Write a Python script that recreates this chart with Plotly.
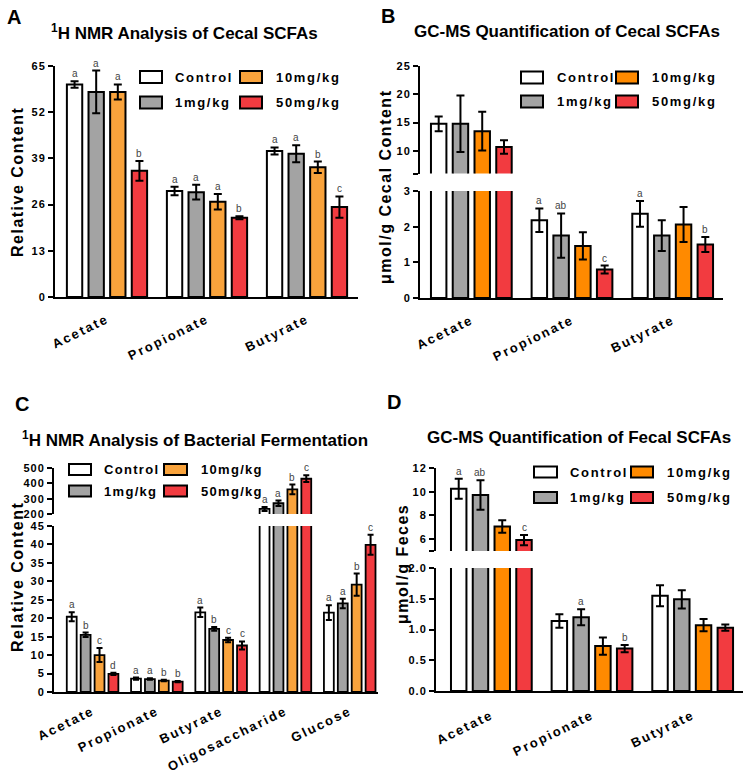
import plotly.graph_objects as go

W, H = 751, 775
FONT = "Liberation Sans, Arial, sans-serif"

# ---------------- data ----------------
series_names = ["Control", "1mg/kg", "10mg/kg", "50mg/kg"]

# Panel A: 1H NMR, cecal SCFAs (relative content)
cats_A = ["Acetate", "Propionate", "Butyrate"]
A_control = [59.8, 29.8, 41.1]
A_1mg = [57.7, 29.5, 40.3]
A_10mg = [57.7, 26.8, 36.5]
A_50mg = [35.5, 22.3, 25.3]
A_control_err = [0.9, 1.2, 1.0]
A_1mg_err = [6.0, 2.1, 2.4]
A_10mg_err = [2.1, 2.2, 1.6]
A_50mg_err = [2.8, 0.4, 3.0]
A_letters_control = ["a", "a", "a"]
A_letters_1mg = ["a", "a", "a"]
A_letters_10mg = ["a", "a", "b"]
A_letters_50mg = ["b", "b", "c"]

# Panel B: GC-MS, cecal SCFAs (umol/g)
cats_B = ["Acetate", "Propionate", "Butyrate"]
B_control = [14.8, 2.18, 2.36]
B_1mg = [14.8, 1.75, 1.75]
B_10mg = [13.5, 1.46, 2.06]
B_50mg = [10.7, 0.80, 1.50]
B_control_err = [1.3, 0.33, 0.36]
B_1mg_err = [5.0, 0.62, 0.43]
B_10mg_err = [3.4, 0.38, 0.49]
B_50mg_err = [1.2, 0.11, 0.21]
B_letters_control = ["", "a", "a"]
B_letters_1mg = ["", "ab", ""]
B_letters_10mg = ["", "", ""]
B_letters_50mg = ["", "c", "b"]

# Panel C: 1H NMR, bacterial fermentation (relative content)
cats_C = ["Acetate", "Propionate", "Butyrate", "Oligosaccharide", "Glucose"]
C_control = [20.4, 3.6, 21.6, 233, 21.5]
C_1mg = [15.5, 3.5, 17.1, 270, 24.0]
C_10mg = [10.0, 3.1, 14.1, 360, 29.1]
C_50mg = [4.9, 2.8, 12.6, 430, 39.9]
C_control_err = [1.2, 0.3, 1.3, 13, 2.0]
C_1mg_err = [0.6, 0.2, 0.5, 18, 1.3]
C_10mg_err = [1.9, 0.2, 0.6, 32, 3.0]
C_50mg_err = [0.3, 0.15, 1.1, 22, 2.7]
C_letters_control = ["a", "a", "a", "a", "a"]
C_letters_1mg = ["b", "a", "b", "a", "a"]
C_letters_10mg = ["c", "b", "c", "b", "b"]
C_letters_50mg = ["d", "b", "c", "c", "c"]

# Panel D: GC-MS, fecal SCFAs (umol/g feces)
cats_D = ["Acetate", "Propionate", "Butyrate"]
D_control = [10.25, 1.14, 1.55]
D_1mg = [9.72, 1.20, 1.49]
D_10mg = [7.07, 0.73, 1.07]
D_50mg = [5.92, 0.69, 1.03]
D_control_err = [0.85, 0.11, 0.17]
D_1mg_err = [1.25, 0.13, 0.15]
D_10mg_err = [0.53, 0.14, 0.10]
D_50mg_err = [0.43, 0.06, 0.05]
D_letters_control = ["a", "", ""]
D_letters_1mg = ["ab", "a", ""]
D_letters_10mg = ["", "", ""]
D_letters_50mg = ["c", "b", ""]

# tick labels
A_yticks = [0, 13, 26, 39, 52, 65]
B_low_ticks = [0, 1, 2, 3]
B_up_ticks = [10, 15, 20, 25]
B_break = [6]
C_low_ticks = [0, 5, 10, 15, 20, 25, 30, 35, 40, 45]
C_up_ticks = [200, 300, 400, 500]
D_low_ticks = [0.0, 0.5, 1.0, 1.5, 2.0]
D_up_ticks = [6, 8, 10, 12]
D_break = [5]

colors_light = ["#FFFFFF", "#A3A3A3", "#F9A33C", "#F23B40"]
colors_dark = ["#FFFFFF", "#A3A3A3", "#FF8A00", "#F23B40"]

# ---------------- helpers ----------------
def ls(t, px):
    return f'<span style="letter-spacing:{px}px">{t}</span>'

def dom_x(a, b):
    return [a / W, b / W]

def dom_y(top, bottom):
    return [1 - bottom / H, 1 - top / H]

def PX(p):
    return p / W

def PY(p):
    return 1 - p / H

BARGAP = 0.135
BARGROUPGAP = 0.29
SLOT = (1 - BARGAP) / 4

panels = [
    dict(cats=cats_A,
         vals=[A_control, A_1mg, A_10mg, A_50mg],
         errs=[A_control_err, A_1mg_err, A_10mg_err, A_50mg_err],
         letters=[A_letters_control, A_letters_1mg, A_letters_10mg, A_letters_50mg],
         colors=colors_light,
         segs=[("x", "y", 0, 65)],
         ew=4, lw=2),
    dict(cats=cats_B,
         vals=[B_control, B_1mg, B_10mg, B_50mg],
         errs=[B_control_err, B_1mg_err, B_10mg_err, B_50mg_err],
         letters=[B_letters_control, B_letters_1mg, B_letters_10mg, B_letters_50mg],
         colors=colors_dark,
         segs=[("x2", "y2", 0, 3), ("x3", "y3", 6, 25)],
         ew=4, lw=2),
    dict(cats=cats_C,
         vals=[C_control, C_1mg, C_10mg, C_50mg],
         errs=[C_control_err, C_1mg_err, C_10mg_err, C_50mg_err],
         letters=[C_letters_control, C_letters_1mg, C_letters_10mg, C_letters_50mg],
         colors=colors_light,
         segs=[("x4", "y4", 0, 45), ("x5", "y5", 200, 500)],
         ew=3, lw=1.8),
    dict(cats=cats_D,
         vals=[D_control, D_1mg, D_10mg, D_50mg],
         errs=[D_control_err, D_1mg_err, D_10mg_err, D_50mg_err],
         letters=[D_letters_control, D_letters_1mg, D_letters_10mg, D_letters_50mg],
         colors=colors_dark,
         segs=[("x6", "y6", 0, 2), ("x7", "y7", 5, 12)],
         ew=4, lw=2),
]

fig = go.Figure()
annotations = []
shapes = []

for P in panels:
    for (xa, ya, lo, hi) in P["segs"]:
        for j in range(4):
            fig.add_trace(go.Bar(
                x=P["cats"], y=P["vals"][j], name=series_names[j],
                xaxis=xa, yaxis=ya, showlegend=False, hoverinfo="skip",
                marker=dict(color=P["colors"][j], line=dict(color="black", width=P["lw"])),
                error_y=dict(type="data", array=P["errs"][j], visible=True,
                             color="black", thickness=2, width=P["ew"]),
            ))
    # significance letters
    for j in range(4):
        for i, L in enumerate(P["letters"][j]):
            if not L:
                continue
            top = P["vals"][j][i] + P["errs"][j][i]
            seg = P["segs"][0]
            for s in P["segs"]:
                if s[2] <= top <= s[3]:
                    seg = s
            annotations.append(dict(
                xref=seg[0], yref=seg[1], x=i + (j - 1.5) * SLOT, y=top,
                text=L, showarrow=False, yanchor="bottom", xanchor="center", yshift=0,
                font=dict(family=FONT, size=10, color="#444444")))

# ---------------- axes ----------------
tickfont = dict(family=FONT, size=11, color="black", weight="bold")
catfont = dict(family=FONT, size=13, color="black", weight="bold")

def yax(domain, anchor, rng, tvals, ttext=None, breaks=None):
    if ttext is None:
        ttext = [str(v) for v in tvals]
    d = dict(domain=domain, anchor=anchor, range=rng, showline=True, linewidth=2,
             linecolor="black", ticks="outside", ticklen=5, tickwidth=2,
             tickcolor="black", showgrid=False, zeroline=False, tickfont=tickfont,
             tickmode="array", tickvals=tvals, automargin=False,
             ticktext=[ls(t, 1) for t in ttext], fixedrange=True)
    if breaks:
        d["minor"] = dict(tickmode="array", tickvals=breaks, ticks="outside",
                          ticklen=5, tickwidth=2, tickcolor="black", showgrid=False)
    return d

def xax(domain, anchor, rng, cats, visible=True, standoff=8):
    return dict(domain=domain, anchor=anchor, range=rng, type="category",
                categoryorder="array", categoryarray=cats,
                showline=visible, linewidth=2, linecolor="black", ticks="",
                showgrid=False, zeroline=False, visible=visible, automargin=False,
                tickangle=-26, tickfont=catfont, tickmode="array", tickvals=cats,
                ticktext=[ls(c, 2) for c in cats], ticklabelstandoff=standoff,
                fixedrange=True)

layout = dict(
    width=W, height=H, autosize=False,
    margin=dict(l=0, r=0, t=0, b=0, pad=0, autoexpand=False),
    paper_bgcolor="white", plot_bgcolor="rgba(0,0,0,0)",
    barmode="group", bargap=BARGAP, bargroupgap=BARGROUPGAP,
    showlegend=False,
    # A
    xaxis=xax(dom_x(55, 358), "y", [-0.52, 2.51], cats_A),
    yaxis=yax(dom_y(66, 297), "x", [0, 65], A_yticks),
    # B
    xaxis2=xax(dom_x(420, 723), "y2", [-0.51, 2.50], cats_B),
    yaxis2=yax(dom_y(191, 298), "x2", [0, 3], B_low_ticks),
    xaxis3=xax(dom_x(420, 723), "y3", [-0.51, 2.50], cats_B, visible=False),
    yaxis3=yax(dom_y(66, 173.6), "x3", [6, 25], B_up_ticks, breaks=B_break),
    # C
    xaxis4=xax(dom_x(54, 378), "y4", [-0.6, 4.44], cats_C, standoff=5),
    yaxis4=yax(dom_y(526, 692), "x4", [0, 45], C_low_ticks),
    xaxis5=xax(dom_x(54, 378), "y5", [-0.6, 4.44], cats_C, visible=False),
    yaxis5=yax(dom_y(468, 514), "x5", [200, 500], C_up_ticks),
    # D
    xaxis6=xax(dom_x(436, 743), "y6", [-0.55, 2.50], cats_D, standoff=10),
    yaxis6=yax(dom_y(568, 691), "x6", [0, 2], D_low_ticks,
               [f"{v:.1f}" for v in D_low_ticks]),
    xaxis7=xax(dom_x(436, 743), "y7", [-0.55, 2.50], cats_D, visible=False),
    yaxis7=yax(dom_y(468, 551), "x7", [5, 12], D_up_ticks, breaks=D_break),
)

# ---------------- titles, panel letters, axis titles ----------------
titlefont = dict(family=FONT, size=17, color="black", weight="bold")
titles = [
    ("<sup>1</sup>H NMR Analysis of Cecal SCFAs", 184, 32),
    ("GC-MS Quantification of Cecal SCFAs", 567, 31),
    ("<sup>1</sup>H NMR Analysis of Bacterial Fermentation", 195, 439),
    ("GC-MS Quantification of Fecal SCFAs", 579, 437),
]
for t, x, y in titles:
    annotations.append(dict(xref="paper", yref="paper", x=PX(x), y=PY(y), text=t,
                            showarrow=False, xanchor="center", yanchor="middle",
                            font=titlefont))

for t, x, y in [("A", 14, 17), ("B", 388, 16), ("C", 22, 404), ("D", 394, 402)]:
    annotations.append(dict(xref="paper", yref="paper", x=PX(x), y=PY(y), text=t,
                            showarrow=False, xanchor="center", yanchor="middle",
                            font=dict(family=FONT, size=20, color="black", weight="bold")))

ytitles = [
    ("Relative Content", 17, 182),
    ("μmol/g Cecal Content", 385, 187),
    ("Relative Content", 17, 577),
    ("μmol/g Feces", 402, 564),
]
for t, x, y in ytitles:
    annotations.append(dict(xref="paper", yref="paper", x=PX(x), y=PY(y), text=ls(t, 1.5),
                            showarrow=False, xanchor="center", yanchor="middle",
                            textangle=-90,
                            font=dict(family=FONT, size=16, color="black", weight="bold")))

# ---------------- legends (2 x 2 swatch grid per panel) ----------------
legend_pos = [
    dict(c1=(140, 162), c2=(240, 262), rows=(77, 102.5), t1=173, t2=274, h=12, ls=1.7, colors=colors_light),
    dict(c1=(521, 543), c2=(616, 638), rows=(77.5, 101.5), t1=555, t2=650, h=12, ls=1.7, colors=colors_dark),
    dict(c1=(69, 91), c2=(164, 187), rows=(469.5, 491), t1=102, t2=199, h=11, ls=1.3, colors=colors_light),
    dict(c1=(534, 557), c2=(631, 653), rows=(472, 497.5), t1=568, t2=665, h=11, ls=1.7, colors=colors_dark),
]
grid = [(0, 0, 0), (1, 0, 1), (2, 1, 0), (3, 1, 1)]  # series j, column, row
for L in legend_pos:
    for j, col, row in grid:
        bx = L["c1"] if col == 0 else L["c2"]
        tx = L["t1"] if col == 0 else L["t2"]
        yc = L["rows"][row]
        shapes.append(dict(type="rect", xref="paper", yref="paper",
                           x0=PX(bx[0]), x1=PX(bx[1]),
                           y0=PY(yc + L["h"] / 2), y1=PY(yc - L["h"] / 2),
                           fillcolor=L["colors"][j], line=dict(color="black", width=2)))
        annotations.append(dict(xref="paper", yref="paper", x=PX(tx), y=PY(yc),
                                text=ls(series_names[j], L["ls"]), showarrow=False,
                                xanchor="left", yanchor="middle",
                                font=dict(family=FONT, size=13, color="black", weight="bold")))

layout["annotations"] = annotations
layout["shapes"] = shapes
fig.update_layout(**layout)
fig.write_html("out.html", config={"displayModeBar": False},
               post_script="document.body.style.margin='0';document.body.style.padding='0';")
